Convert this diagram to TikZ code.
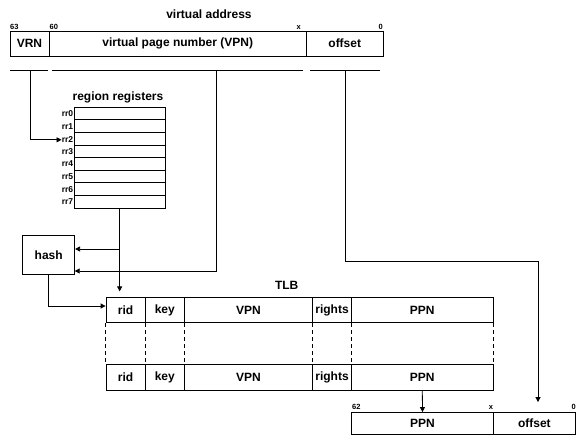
\documentclass[tikz,border=0pt]{standalone}
\usepackage{fontspec}
\setmainfont{Liberation Sans}
\usetikzlibrary{arrows.meta}

\begin{document}
\begin{tikzpicture}[x=1pt,y=-1pt,
  cell/.style={draw,rectangle,line width=0.8pt,inner sep=0pt,font=\bfseries\fontsize{12}{14}\selectfont},
  regrow/.style={draw,rectangle,line width=0.9pt,inner sep=0pt,minimum width=90.7pt,minimum height=12.6pt},
  bits/.style={inner sep=0pt,font=\bfseries\fontsize{7.5}{8}\selectfont},
  rrlabel/.style={inner sep=0pt,anchor=east,font=\bfseries\fontsize{8.5}{9}\selectfont},
  title/.style={inner sep=0pt,font=\bfseries\fontsize{12}{14}\selectfont},
  arrow/.style={line width=0.8pt,-{Triangle[length=5pt,width=5pt]}}]
\useasboundingbox (0,0) rectangle (576,436);

% virtual address
\node[title] (va) at (209,14) {virtual address};
\node[cell, minimum width=39pt, minimum height=25pt] (vrn) at (29.5,43.5) {VRN};
\node[cell, minimum width=257.5pt, minimum height=25pt] (vpn) at (177.75,43.5) {virtual page number (VPN)};
\node[cell, minimum width=76.5pt, minimum height=25pt] (off) at (344.75,43.5) {offset};
\node[bits, anchor=base west] (b63) at (10,29.5) {63};
\node[bits, anchor=base west] (b60) at (49.5,29.5) {60};
\node[bits, anchor=base east] (bx) at (301,29.5) {x};
\node[bits, anchor=base east] (b0) at (383,29.5) {0};

\draw[line width=0.8pt] (10,70) -- (48,70);
\draw[line width=0.8pt] (52,70) -- (303,70);
\draw[line width=0.8pt] (310,70) -- (380,70);
\coordinate (vrnb) at (30,70);
\coordinate (vpnb) at (216.7,70);
\coordinate (offb) at (345,70);

% region registers
\node[title] (rrt) at (118,97.3) {region registers};
\node[regrow] (rr0) at (119.65,113.6) {};
\node[regrow] (rr1) at (119.65,126.2) {};
\node[regrow] (rr2) at (119.65,138.8) {};
\node[regrow] (rr3) at (119.65,151.4) {};
\node[regrow] (rr4) at (119.65,164.0) {};
\node[regrow] (rr5) at (119.65,176.6) {};
\node[regrow] (rr6) at (119.65,189.2) {};
\node[regrow] (rr7) at (119.65,201.8) {};
\node[rrlabel] (rrl0) at (73.3,113.6) {rr0};
\node[rrlabel] (rrl1) at (73.3,126.2) {rr1};
\node[rrlabel] (rrl2) at (73.3,139.8) {rr2};
\node[rrlabel] (rrl3) at (73.3,151.4) {rr3};
\node[rrlabel] (rrl4) at (73.3,164.0) {rr4};
\node[rrlabel] (rrl5) at (73.3,176.6) {rr5};
\node[rrlabel] (rrl6) at (73.3,189.2) {rr6};
\node[rrlabel] (rrl7) at (73.3,201.8) {rr7};

% hash
\node[cell, minimum width=52pt, minimum height=38.6pt] (hash) at (48.7,255) {hash};

% TLB
\node[title] (tlb) at (286.7,285) {TLB};
\node[cell, minimum width=39.3pt, minimum height=25.4pt] (rid1) at (125.65,310) {rid};
\node[cell, minimum width=39pt, minimum height=25.4pt] (key1) at (164.8,310) {key};
\node[cell, minimum width=128.4pt, minimum height=25.4pt] (vpn1) at (248.5,310) {VPN};
\node[cell, minimum width=38.6pt, minimum height=25.4pt] (rgt1) at (332,310) {rights};
\node[cell, minimum width=142pt, minimum height=25.4pt] (ppn1) at (422.3,310) {PPN};

\node[cell, minimum width=39.3pt, minimum height=26pt] (rid2) at (125.65,377) {rid};
\node[cell, minimum width=39pt, minimum height=26pt] (key2) at (164.8,377) {key};
\node[cell, minimum width=128.4pt, minimum height=26pt] (vpn2) at (248.5,377) {VPN};
\node[cell, minimum width=38.6pt, minimum height=26pt] (rgt2) at (332,377) {rights};
\node[cell, minimum width=142pt, minimum height=26pt] (ppn2) at (422.3,377) {PPN};

\draw[line width=0.8pt, dash pattern=on 4pt off 3pt] (rid1.south west) -- (rid2.north west);
\draw[line width=0.8pt, dash pattern=on 4pt off 3pt] (key1.south west) -- (key2.north west);
\draw[line width=0.8pt, dash pattern=on 4pt off 3pt] (vpn1.south west) -- (vpn2.north west);
\draw[line width=0.8pt, dash pattern=on 4pt off 3pt] (rgt1.south west) -- (rgt2.north west);
\draw[line width=0.8pt, dash pattern=on 4pt off 3pt] (ppn1.south west) -- (ppn2.north west);
\draw[line width=0.8pt, dash pattern=on 4pt off 3pt] (ppn1.south east) -- (ppn2.north east);

% physical address
\node[cell, minimum width=141.6pt, minimum height=22pt] (ppnr) at (422.5,423.5) {PPN};
\node[cell, minimum width=82.2pt, minimum height=22pt] (offr) at (534.4,423.5) {offset};
\node[bits, anchor=base west] (b62) at (352,409.5) {62};
\node[bits, anchor=base east] (bx2) at (493.3,409.5) {x};
\node[bits, anchor=base east] (b02) at (576,409.5) {0};

% connectors
\coordinate (br) at (119.65,249);
\coordinate (hashin) at (74.7,271);
\coordinate (oturn) at (538,261);
\draw[arrow] (vrnb) |- (rrl2.west);
\draw[arrow] (vpnb) |- (hashin);
\draw[arrow, shorten >=5.5pt] (rr7.south) -- (rr7.south |- rid1.north);
\draw[arrow] (br) -- (br -| hash.east);
\draw[arrow] (hash.south) |- ([yshift=4pt]rid1.west);
\draw[arrow] (ppn2.south) -- (ppnr.north);
\draw[arrow, shorten >=10pt] (offb) |- (oturn) -- (oturn |- offr.north);

\end{tikzpicture}
\end{document}
